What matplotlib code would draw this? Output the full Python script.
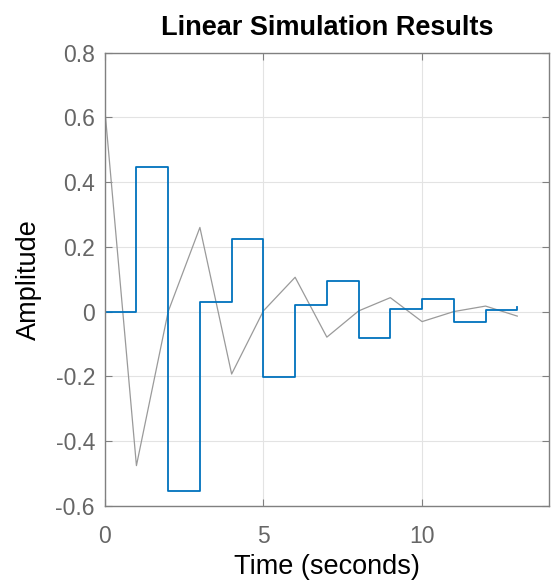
import numpy as np
import matplotlib.pyplot as plt

plt.rcParams['font.family'] = ['Liberation Sans', 'DejaVu Sans']

# time samples (seconds)
t = [0, 1, 2, 3, 4, 5, 6, 7, 8, 9, 10, 11, 12, 13]
# system response (blue, zero-order hold)
y_out = [0.0, 0.448, -0.553, 0.031, 0.225, -0.203, 0.020, 0.095, -0.082, 0.009, 0.039, -0.032, 0.004, 0.015]
# input signal (gray)
u_in = [0.63, -0.476, 0.0, 0.26, -0.193, 0.002, 0.106, -0.079, 0.002, 0.043, -0.031, 0.0, 0.017, -0.014]

fig = plt.figure(figsize=(5.51, 5.82), dpi=100)
ax = fig.add_axes([0.190, 0.131, 0.8064, 0.7785])

ax.plot(t, u_in, color="#9a9a9a", lw=0.9)
ax.step(t, y_out, where="post", color="#0072BD", lw=1.3)

ax.set_xlim(0, 14)
ax.set_ylim(-0.6, 0.8)
ax.set_xticks([0, 5, 10])
ax.set_yticks(np.round(np.arange(-0.6, 0.81, 0.2), 1))
ax.set_yticklabels(["-0.6", "-0.4", "-0.2", "0", "0.2", "0.4", "0.6", "0.8"])

ax.grid(True, color="#e3e3e3", lw=0.8)
ax.set_axisbelow(True)
for s in ax.spines.values():
    s.set_color("#808080")
    s.set_linewidth(1.0)
ax.tick_params(direction="in", top=True, right=True, length=5, width=0.8,
               color="#808080", labelcolor="#666666", labelsize=16.5)
ax.tick_params(axis="x", pad=14)
ax.tick_params(axis="y", pad=7)

ax.set_xlabel("Time (seconds)", fontsize=19.5, color="black", labelpad=4)
ax.set_ylabel("Amplitude", fontsize=19.5, color="black", labelpad=10)
ax.set_title("Linear Simulation Results", fontsize=19.5, fontweight="bold", pad=13)

fig.savefig("out.png", dpi=100)
